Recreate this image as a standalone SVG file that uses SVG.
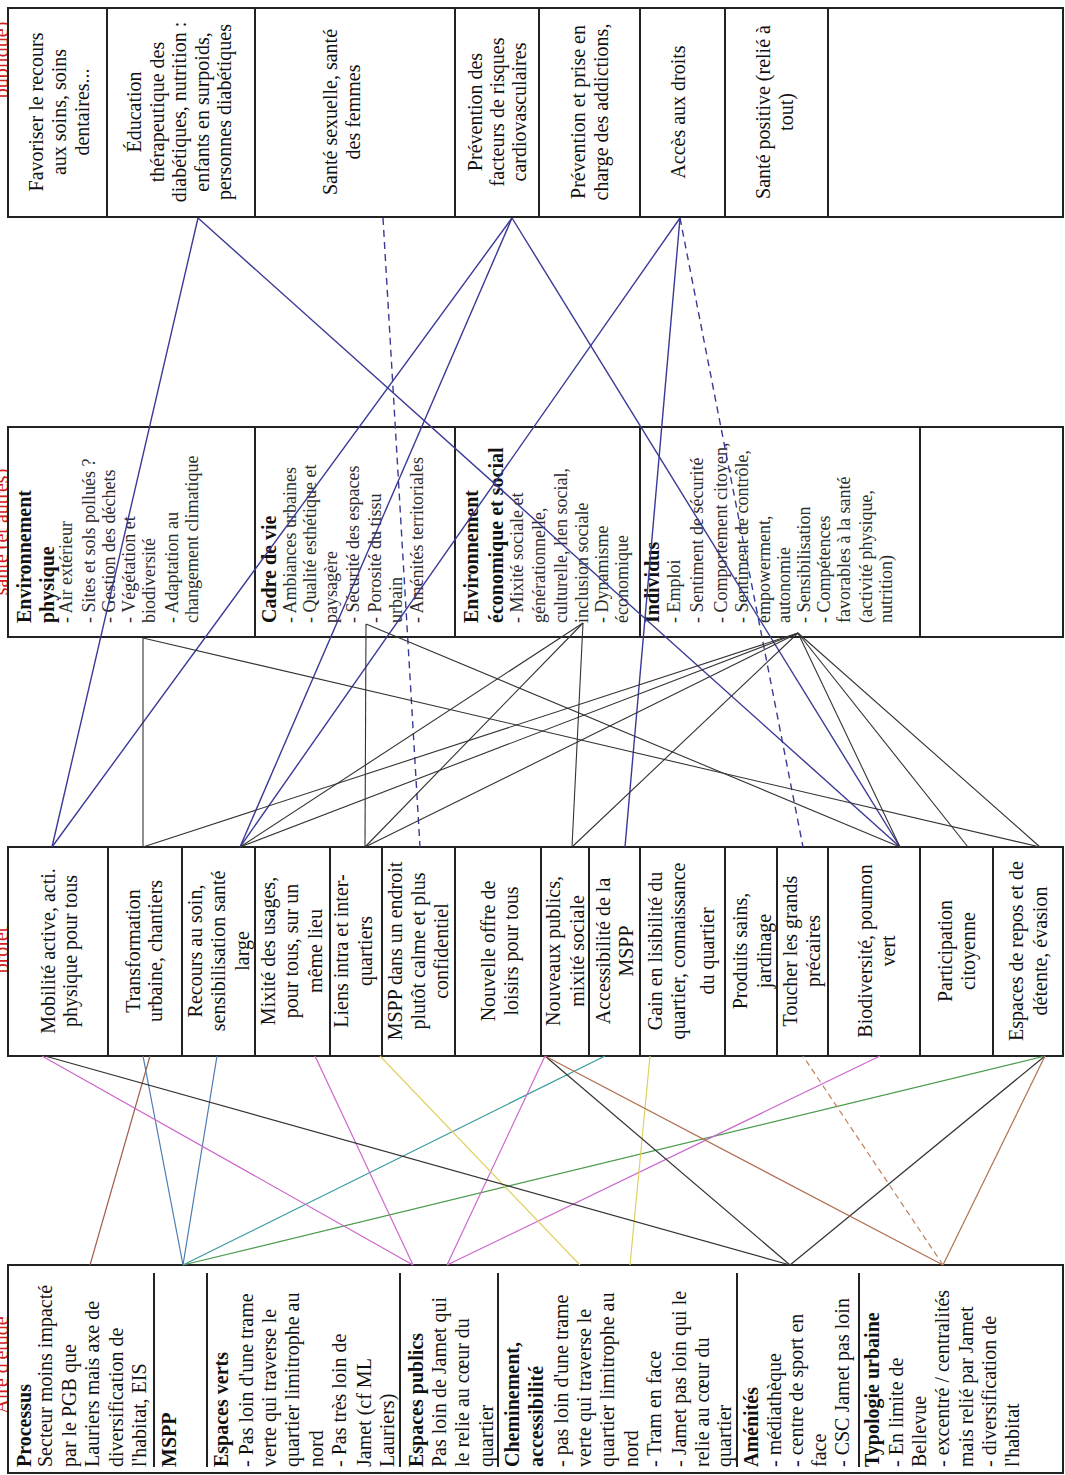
<svg xmlns="http://www.w3.org/2000/svg" width="1065" height="1475" viewBox="0 0 1065 1475">
<style>
.bx{fill:#fff;stroke:#222;stroke-width:2}
.t{font-family:"Liberation Serif","Times New Roman",serif;font-size:20px;fill:#111}
.s{font-size:18px;fill:#2a2a2a}
.b{font-weight:bold}
.c{text-anchor:middle}
.hd{font-family:"Liberation Serif","Times New Roman",serif;font-size:20px;fill:#d02020;text-anchor:middle}
.rule{stroke:#222;stroke-width:2}
.bl{stroke:#3a3a96;stroke-width:1.4;fill:none}
.bld{stroke:#3a3a96;stroke-width:1.4;fill:none;stroke-dasharray:7 5}
.k{stroke:#333;stroke-width:1.1;fill:none}
.cl{stroke-width:1.2;fill:none}
.dash{stroke-dasharray:6 4}
</style>
<rect width="1065" height="1475" fill="#fff"/>

<!-- red headers (cut at left edge, as in the source) -->
<g transform="rotate(-90)">
<text class="hd" x="-60" y="8">publique)</text>
<text class="hd" x="-532" y="8">santé (et autres)</text>
<text class="hd" x="-950" y="8">projet</text>
<text class="hd" x="-1365" y="8">Aire d'étude</text>
</g>

<!-- top strip: santé publique -->
<g id="pub-recours"><rect class="bx" x="8" y="8" width="99" height="209"/>
<text class="t c" transform="rotate(-90)"><tspan x="-112" y="43">Favoriser le recours</tspan><tspan x="-112" y="66">aux soins, soins</tspan><tspan x="-112" y="89">dentaires...</tspan></text></g>
<g id="pub-education"><rect class="bx" x="107" y="8" width="148" height="209"/>
<text class="t c" transform="rotate(-90)"><tspan x="-112" y="141">Éducation</tspan><tspan x="-112" y="163.5">thérapeutique des</tspan><tspan x="-112" y="186">diabétiques, nutrition :</tspan><tspan x="-112" y="208.5">enfants en surpoids,</tspan><tspan x="-112" y="231">personnes diabétiques</tspan></text></g>
<g id="pub-sexuelle"><rect class="bx" x="255" y="8" width="200" height="209"/>
<text class="t c" transform="rotate(-90)"><tspan x="-112" y="337">Santé sexuelle, santé</tspan><tspan x="-112" y="360">des femmes</tspan></text></g>
<g id="pub-cardio"><rect class="bx" x="455" y="8" width="84" height="209"/>
<text class="t c" transform="rotate(-90)"><tspan x="-112" y="482">Prévention des</tspan><tspan x="-112" y="504">facteurs de risques</tspan><tspan x="-112" y="526">cardiovasculaires</tspan></text></g>
<g id="pub-addictions"><rect class="bx" x="539" y="8" width="101" height="209"/>
<text class="t c" transform="rotate(-90)"><tspan x="-112" y="585">Prévention et prise en</tspan><tspan x="-112" y="608">charge des addictions,</tspan></text></g>
<g id="pub-droits"><rect class="bx" x="640" y="8" width="85" height="209"/>
<text class="t c" transform="rotate(-90)"><tspan x="-112" y="685">Accès aux droits</tspan></text></g>
<g id="pub-positive"><rect class="bx" x="725" y="8" width="103" height="209"/>
<text class="t c" transform="rotate(-90)"><tspan x="-112" y="770">Santé positive (relié à</tspan><tspan x="-112" y="793">tout)</tspan></text></g>
<g id="pub-empty"><rect class="bx" x="828" y="8" width="235" height="209"/></g>

<!-- santé strip -->
<g id="det-physique"><rect class="bx" x="8" y="427" width="247" height="210"/>
<text class="t" transform="rotate(-90)"><tspan class="b" x="-623" y="31">Environnement</tspan><tspan class="b" x="-623" y="54">physique</tspan><tspan class="s" x="-623" y="72">- Air extérieur</tspan><tspan class="s" x="-623" y="95">- Sites et sols pollués ?</tspan><tspan class="s" x="-623" y="115">- Gestion des déchets</tspan><tspan class="s" x="-623" y="135">- Végétation et</tspan><tspan class="s" x="-623" y="155">biodiversité</tspan><tspan class="s" x="-623" y="178">- Adaptation au</tspan><tspan class="s" x="-623" y="198">changement climatique</tspan></text></g>
<g id="det-cadre"><rect class="bx" x="255" y="427" width="200" height="210"/>
<text class="t" transform="rotate(-90)"><tspan class="b" x="-623" y="276">Cadre de vie</tspan><tspan class="s" x="-623" y="296">- Ambiances urbaines</tspan><tspan class="s" x="-623" y="316">- Qualité esthétique et</tspan><tspan class="s" x="-623" y="337">paysagère</tspan><tspan class="s" x="-623" y="359">- Sécurité  des espaces</tspan><tspan class="s" x="-623" y="381">- Porosité du tissu</tspan><tspan class="s" x="-623" y="402">urbain</tspan><tspan class="s" x="-623" y="423">- Aménités territoriales</tspan></text></g>
<g id="det-eco"><rect class="bx" x="455" y="427" width="185" height="210"/>
<text class="t" transform="rotate(-90)"><tspan class="b" x="-623" y="478">Environnement</tspan><tspan class="b" x="-623" y="503">économique et social</tspan><tspan class="s" x="-623" y="523">- Mixité sociale et</tspan><tspan class="s" x="-623" y="545">générationnelle,</tspan><tspan class="s" x="-623" y="567">culturelle, lien social,</tspan><tspan class="s" x="-623" y="588">inclusion sociale</tspan><tspan class="s" x="-623" y="608">- Dynamisme</tspan><tspan class="s" x="-623" y="628">économique</tspan></text></g>
<g id="det-individus"><rect class="bx" x="640" y="427" width="280" height="210"/>
<text class="t" transform="rotate(-90)"><tspan class="b" x="-623" y="659">Individus</tspan><tspan class="s" x="-623" y="680">- Emploi</tspan><tspan class="s" x="-623" y="703">- Sentiment de sécurité</tspan><tspan class="s" x="-623" y="727">- Comportement citoyen,</tspan><tspan class="s" x="-623" y="748">- Sentiment de contrôle,</tspan><tspan class="s" x="-623" y="770">empowerment,</tspan><tspan class="s" x="-623" y="790">autonomie</tspan><tspan class="s" x="-623" y="810">- Sensibilisation</tspan><tspan class="s" x="-623" y="830">- Compétences</tspan><tspan class="s" x="-623" y="850">favorables à la santé</tspan><tspan class="s" x="-623" y="872">(activité physique,</tspan><tspan class="s" x="-623" y="892">nutrition)</tspan></text></g>
<g id="det-empty"><rect class="bx" x="920" y="427" width="143" height="210"/></g>

<!-- projet strip -->
<g id="p-mobilite"><rect class="bx" x="8" y="847" width="100" height="209"/>
<text class="t c" transform="rotate(-90)"><tspan x="-951" y="55">Mobilité active, acti.</tspan><tspan x="-951" y="77">physique pour tous</tspan></text></g>
<g id="p-transformation"><rect class="bx" x="108" y="847" width="74" height="209"/>
<text class="t c" transform="rotate(-90)"><tspan x="-951" y="140">Transformation</tspan><tspan x="-951" y="162">urbaine, chantiers</tspan></text></g>
<g id="p-recours"><rect class="bx" x="182" y="847" width="73" height="209"/>
<text class="t c" transform="rotate(-90)"><tspan x="-951" y="202">Recours au soin,</tspan><tspan x="-951" y="225">sensibilisation santé</tspan><tspan x="-951" y="249">large</tspan></text></g>
<g id="p-mixite-usages"><rect class="bx" x="255" y="847" width="75" height="209"/>
<text class="t c" transform="rotate(-90)"><tspan x="-951" y="275">Mixité des usages,</tspan><tspan x="-951" y="298">pour tous, sur un</tspan><tspan x="-951" y="322">même lieu</tspan></text></g>
<g id="p-liens"><rect class="bx" x="330" y="847" width="52" height="209"/>
<text class="t c" transform="rotate(-90)"><tspan x="-951" y="348">Liens intra et inter-</tspan><tspan x="-951" y="372">quartiers</tspan></text></g>
<g id="p-mspp-calme"><rect class="bx" x="382" y="847" width="73" height="209"/>
<text class="t c" transform="rotate(-90)"><tspan x="-951" y="402">MSPP dans un endroit</tspan><tspan x="-951" y="425">plutôt calme et plus</tspan><tspan x="-951" y="448">confidentiel</tspan></text></g>
<g id="p-loisirs"><rect class="bx" x="455" y="847" width="86" height="209"/>
<text class="t c" transform="rotate(-90)"><tspan x="-951" y="495">Nouvelle offre de</tspan><tspan x="-951" y="518">loisirs pour tous</tspan></text></g>
<g id="p-publics"><rect class="bx" x="541" y="847" width="48" height="209"/>
<text class="t c" transform="rotate(-90)"><tspan x="-951" y="560">Nouveaux publics,</tspan><tspan x="-951" y="584">mixité sociale</tspan></text></g>
<g id="p-accessibilite"><rect class="bx" x="589" y="847" width="51" height="209"/>
<text class="t c" transform="rotate(-90)"><tspan x="-951" y="610">Accessibilité de la</tspan><tspan x="-951" y="633">MSPP</tspan></text></g>
<g id="p-lisibilite"><rect class="bx" x="640" y="847" width="85" height="209"/>
<text class="t c" transform="rotate(-90)"><tspan x="-951" y="662">Gain en lisibilité du</tspan><tspan x="-951" y="685">quartier, connaissance</tspan><tspan x="-951" y="714">du quartier</tspan></text></g>
<g id="p-produits"><rect class="bx" x="725" y="847" width="52" height="209"/>
<text class="t c" transform="rotate(-90)"><tspan x="-951" y="747">Produits sains,</tspan><tspan x="-951" y="771">jardinage</tspan></text></g>
<g id="p-precaires"><rect class="bx" x="777" y="847" width="51" height="209"/>
<text class="t c" transform="rotate(-90)"><tspan x="-951" y="797">Toucher les grands</tspan><tspan x="-951" y="820">précaires</tspan></text></g>
<g id="p-biodiversite"><rect class="bx" x="828" y="847" width="92" height="209"/>
<text class="t c" transform="rotate(-90)"><tspan x="-951" y="872">Biodiversité, poumon</tspan><tspan x="-951" y="895">vert</tspan></text></g>
<g id="p-participation"><rect class="bx" x="920" y="847" width="73" height="209"/>
<text class="t c" transform="rotate(-90)"><tspan x="-951" y="952">Participation</tspan><tspan x="-951" y="975">citoyenne</tspan></text></g>
<g id="p-repos"><rect class="bx" x="993" y="847" width="70" height="209"/>
<text class="t c" transform="rotate(-90)"><tspan x="-951" y="1023">Espaces de repos et de</tspan><tspan x="-951" y="1047">détente, évasion</tspan></text></g>

<!-- bottom strip: aire d'étude -->
<g id="aire">
<rect class="bx" x="8" y="1265" width="1055" height="208"/>
<line class="rule" x1="154" y1="1273" x2="154" y2="1467"/>
<line class="rule" x1="207" y1="1273" x2="207" y2="1467"/>
<line class="rule" x1="400" y1="1273" x2="400" y2="1467"/>
<line class="rule" x1="498" y1="1273" x2="498" y2="1467"/>
<line class="rule" x1="737" y1="1273" x2="737" y2="1467"/>
<line class="rule" x1="859" y1="1273" x2="859" y2="1467"/>
<g id="a-processus"><text class="t" transform="rotate(-90)"><tspan class="b" x="-1467" y="31">Processus</tspan><tspan x="-1467" y="52">Secteur moins impacté</tspan><tspan x="-1467" y="76">par le PGB que</tspan><tspan x="-1467" y="99">Lauriers mais axe de</tspan><tspan x="-1467" y="123">diversification de</tspan><tspan x="-1467" y="146">l'habitat, EIS</tspan></text></g>
<g id="a-mspp"><text class="t b" transform="rotate(-90)" x="-1467" y="176">MSPP</text></g>
<g id="a-verts"><text class="t" transform="rotate(-90)"><tspan class="b" x="-1467" y="228">Espaces verts</tspan><tspan x="-1467" y="253">- Pas loin d'une trame</tspan><tspan x="-1467" y="276">verte qui traverse le</tspan><tspan x="-1467" y="299">quartier limitrophe au</tspan><tspan x="-1467" y="323">nord</tspan><tspan x="-1467" y="346">- Pas très loin de</tspan><tspan x="-1467" y="371">Jamet (cf ML</tspan><tspan x="-1467" y="394">Lauriers)</tspan></text></g>
<g id="a-publics"><text class="t" transform="rotate(-90)"><tspan class="b" x="-1467" y="423">Espaces publics</tspan><tspan x="-1467" y="446">Pas loin de Jamet qui</tspan><tspan x="-1467" y="469">le relie au cœur du</tspan><tspan x="-1467" y="493">quartier</tspan></text></g>
<g id="a-cheminement"><text class="t" transform="rotate(-90)"><tspan class="b" x="-1467" y="519">Cheminement,</tspan><tspan class="b" x="-1467" y="543">accessibilité</tspan><tspan x="-1467" y="568">- pas loin d'une trame</tspan><tspan x="-1467" y="591">verte qui traverse le</tspan><tspan x="-1467" y="614">quartier limitrophe au</tspan><tspan x="-1467" y="638">nord</tspan><tspan x="-1467" y="661">- Tram en face</tspan><tspan x="-1467" y="686">- Jamet pas loin qui le</tspan><tspan x="-1467" y="709">relie au cœur du</tspan><tspan x="-1467" y="731">quartier</tspan></text></g>
<g id="a-amenites"><text class="t" transform="rotate(-90)"><tspan class="b" x="-1467" y="758">Aménités</tspan><tspan x="-1467" y="781">- médiathèque</tspan><tspan x="-1467" y="803">- centre de sport en</tspan><tspan x="-1467" y="826">face</tspan><tspan x="-1467" y="849">- CSC Jamet pas loin</tspan></text></g>
<g id="a-typologie"><text class="t" transform="rotate(-90)"><tspan class="b" x="-1467" y="879">Typologie urbaine</tspan><tspan x="-1467" y="903">- En limite de</tspan><tspan x="-1467" y="926">Bellevue</tspan><tspan x="-1467" y="949">- excentré / centralités</tspan><tspan x="-1467" y="973">mais relié par Jamet</tspan><tspan x="-1467" y="996">- diversification de</tspan><tspan x="-1467" y="1019">l'habitat</tspan></text></g>
</g>

<!-- connectors (drawn over the boxes, as in the source) -->
<g id="connectors">
<line class="bl" x1="198" y1="218" x2="52" y2="847"/>
<line class="bl" x1="198" y1="218" x2="900" y2="847"/>
<line class="bl" x1="512" y1="218" x2="52" y2="847"/>
<line class="bl" x1="512" y1="218" x2="240" y2="847"/>
<line class="bl" x1="512" y1="218" x2="900" y2="847"/>
<line class="bl" x1="680" y1="218" x2="240" y2="847"/>
<line class="bl" x1="680" y1="218" x2="625" y2="847"/>
<line class="bld" x1="383" y1="218" x2="420" y2="847"/>
<line class="bld" x1="680" y1="218" x2="803" y2="847"/>

<line class="k" x1="143" y1="638" x2="143" y2="847"/>
<line class="k" x1="143" y1="638" x2="1040" y2="847"/>
<line class="k" x1="366" y1="624" x2="365" y2="847"/>
<line class="k" x1="366" y1="624" x2="900" y2="847"/>
<line class="k" x1="583" y1="623" x2="240" y2="847"/>
<line class="k" x1="583" y1="623" x2="365" y2="847"/>
<line class="k" x1="583" y1="623" x2="572" y2="847"/>
<line class="k" x1="798" y1="633" x2="143" y2="847"/>
<line class="k" x1="798" y1="633" x2="240" y2="847"/>
<line class="k" x1="798" y1="633" x2="365" y2="847"/>
<line class="k" x1="798" y1="633" x2="572" y2="847"/>
<line class="k" x1="798" y1="633" x2="900" y2="847"/>
<line class="k" x1="798" y1="633" x2="968" y2="847"/>
<line class="k" x1="798" y1="633" x2="1040" y2="847"/>

<line class="cl" stroke="#a0604a" x1="90" y1="1265" x2="150" y2="1056"/>
<line class="cl" stroke="#4a7ab0" x1="183" y1="1265" x2="143" y2="1056"/>
<line class="cl" stroke="#4a7ab0" x1="183" y1="1265" x2="217" y2="1056"/>
<line class="cl" stroke="#3a9a9a" x1="183" y1="1265" x2="605" y2="1056"/>
<line class="cl" stroke="#4a9a4a" x1="183" y1="1265" x2="1045" y2="1056"/>
<line class="cl" stroke="#cc66cc" x1="413" y1="1265" x2="42" y2="1056"/>
<line class="cl" stroke="#cc66cc" x1="413" y1="1265" x2="315" y2="1056"/>
<line class="cl" stroke="#cc66cc" x1="447" y1="1265" x2="545" y2="1056"/>
<line class="cl" stroke="#cc66cc" x1="447" y1="1265" x2="880" y2="1056"/>
<line class="cl" stroke="#e0d060" x1="580" y1="1265" x2="380" y2="1056"/>
<line class="cl" stroke="#e0d060" x1="630" y1="1265" x2="650" y2="1056"/>
<line class="cl" stroke="#333" x1="790" y1="1265" x2="45" y2="1056"/>
<line class="cl" stroke="#333" x1="790" y1="1265" x2="545" y2="1056"/>
<line class="cl" stroke="#333" x1="790" y1="1265" x2="1045" y2="1056"/>
<line class="cl" stroke="#b07050" x1="943" y1="1265" x2="545" y2="1056"/>
<line class="cl" stroke="#b07050" x1="943" y1="1265" x2="1045" y2="1056"/>
<line class="cl dash" stroke="#c08060" x1="943" y1="1265" x2="803" y2="1056"/>
</g>
</svg>
